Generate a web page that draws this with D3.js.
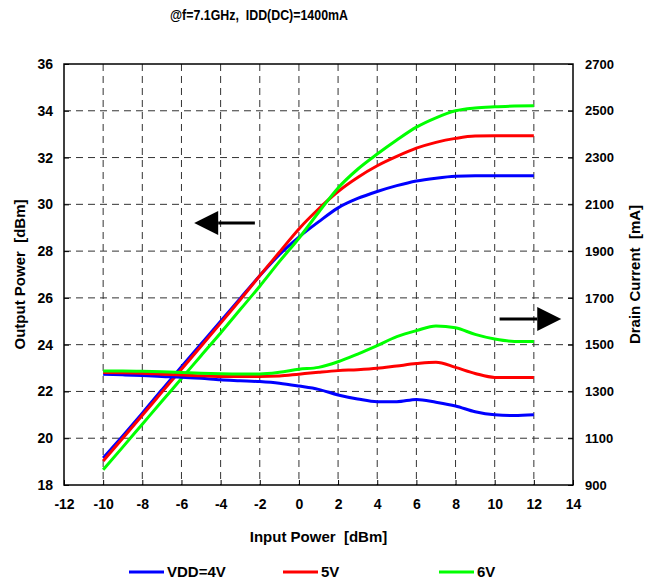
<!DOCTYPE html>
<html>
<head>
<meta charset="utf-8">
<script src="https://cdn.jsdelivr.net/npm/d3@7"></script>
<style>
  body { margin: 0; background: #fff; }
  text { font-family: "Liberation Sans", Arial, sans-serif; font-weight: bold; }
</style>
</head>
<body>
<div id="chart"></div>
<script>
// input power sweep (dBm)
const pin = [-10,-9,-8,-7,-6,-5,-4,-3,-2,-1,0,1,2,3,4,5,6,7,8,9,10,11,12];

// output power (dBm), left axis
const poutVdd4 = [19.15,20.1,21.07,22.07,23.06,24.03,25.0,25.98,26.95,27.85,28.6,29.25,29.85,30.25,30.55,30.8,31.0,31.12,31.2,31.22,31.22,31.22,31.22];
const poutVdd5 = [19.03,20.0,20.98,21.97,22.95,23.93,24.92,25.92,26.95,27.95,28.95,29.8,30.55,31.15,31.65,32.05,32.4,32.65,32.82,32.92,32.93,32.93,32.93];
const poutVdd6 = [18.65,19.62,20.6,21.58,22.55,23.53,24.5,25.5,26.5,27.55,28.55,29.65,30.7,31.5,32.15,32.75,33.3,33.7,34.0,34.12,34.17,34.2,34.22];

// drain current (mA), right axis
const idVdd4 = [1374,1371,1368,1364,1361,1356,1350,1346,1342,1335,1323,1309,1285,1268,1256,1256,1266,1254,1238,1213,1200,1197,1200];
const idVdd5 = [1381,1380,1378,1374,1370,1367,1364,1364,1364,1366,1374,1382,1389,1393,1399,1409,1419,1425,1403,1377,1360,1360,1360];
const idVdd6 = [1387,1387,1386,1384,1381,1378,1376,1375,1375,1382,1395,1403,1427,1460,1496,1534,1560,1580,1572,1544,1524,1514,1514];

const seriesNames = ["VDD=4V", "5V", "6V"];
const seriesColors = ["#0000ff", "#ff0000", "#00ff00"];

const xTicks = [-12,-10,-8,-6,-4,-2,0,2,4,6,8,10,12,14];
const yLeftTicks = [18,20,22,24,26,28,30,32,34,36];
const yRightTicks = [900,1100,1300,1500,1700,1900,2100,2300,2500,2700];

const W = 657, H = 583;
const margin = {top: 64, right: 84, bottom: 98, left: 64};
const width = W - margin.left - margin.right,
      height = H - margin.top - margin.bottom;

const svg = d3.select("#chart").append("svg")
  .attr("width", W).attr("height", H);

const x = d3.scaleLinear().domain([-12, 14]).range([margin.left, margin.left + width]);
const yL = d3.scaleLinear().domain([18, 36]).range([margin.top + height, margin.top]);
const yR = d3.scaleLinear().domain([900, 2700]).range([margin.top + height, margin.top]);

const plain = d => String(d);

// grid
const grid = svg.append("g").attr("stroke", "#333").attr("stroke-width", 1)
  .attr("stroke-dasharray", "7,5");
grid.selectAll("line.v").data(xTicks.slice(1, -1)).enter().append("line")
  .attr("x1", d => x(d)).attr("x2", d => x(d))
  .attr("y1", margin.top).attr("y2", margin.top + height);
grid.selectAll("line.h").data(yLeftTicks.slice(1, -1)).enter().append("line")
  .attr("x1", margin.left).attr("x2", margin.left + width)
  .attr("y1", d => yL(d)).attr("y2", d => yL(d));

// axes
const xAxis = svg.append("g")
  .attr("transform", `translate(0,${margin.top + height})`)
  .call(d3.axisBottom(x).tickValues(xTicks).tickFormat(plain).tickSizeInner(-5).tickSizeOuter(0).tickPadding(14));
const lAxis = svg.append("g")
  .attr("transform", `translate(${margin.left},0)`)
  .call(d3.axisLeft(yL).tickValues(yLeftTicks).tickFormat(plain).tickSizeInner(-5).tickSizeOuter(0).tickPadding(11));
const rAxis = svg.append("g")
  .attr("transform", `translate(${margin.left + width},0)`)
  .call(d3.axisRight(yR).tickValues(yRightTicks).tickFormat(plain).tickSizeInner(-5).tickSizeOuter(0).tickPadding(12));

[xAxis, lAxis, rAxis].forEach(a => {
  a.select(".domain").remove();
  a.selectAll("text").attr("font-size", "14px").attr("fill", "#000")
    .style("font-family", "'Liberation Sans', Arial, sans-serif").style("font-weight", "bold");
  a.selectAll("line").attr("stroke", "#000");
});
rAxis.selectAll("text").attr("font-size", "13px");

// frame
svg.append("rect")
  .attr("x", margin.left).attr("y", margin.top)
  .attr("width", width).attr("height", height)
  .attr("fill", "none").attr("stroke", "#000").attr("stroke-width", 1.5);

// curves
const lineL = d3.line().x((d, i) => x(pin[i])).y(d => yL(d)).curve(d3.curveMonotoneX);
const lineR = d3.line().x((d, i) => x(pin[i])).y(d => yR(d)).curve(d3.curveMonotoneX);

[poutVdd4, poutVdd5, poutVdd6].forEach((s, k) => {
  svg.append("path").datum(s).attr("d", lineL)
    .attr("fill", "none").attr("stroke", seriesColors[k]).attr("stroke-width", 3)
    .attr("stroke-linejoin", "round");
});
[idVdd4, idVdd5, idVdd6].forEach((s, k) => {
  svg.append("path").datum(s).attr("d", lineR)
    .attr("fill", "none").attr("stroke", seriesColors[k]).attr("stroke-width", 3)
    .attr("stroke-linejoin", "round");
});

// arrows pointing to the axis each group belongs to
function arrow(x0, x1, yv, dir) {
  const tip = x(x1), tail = x(x0), yy = yL(yv);
  const base = tip - dir * 24;
  svg.append("line").attr("x1", tail).attr("x2", base).attr("y1", yy).attr("y2", yy)
    .attr("stroke", "#000").attr("stroke-width", 3);
  svg.append("path")
    .attr("d", `M${tip},${yy} L${base},${yy - 12} L${base},${yy + 12} Z`)
    .attr("fill", "#000");
}
arrow(-2.25, -5.35, 29.2, -1);
arrow(10.25, 13.4, 25.1, 1);

// titles
svg.append("text")
  .attr("x", 170).attr("y", 20)
  .attr("font-size", "14px")
  .attr("textLength", 178).attr("lengthAdjust", "spacingAndGlyphs")
  .style("white-space", "pre")
  .text("@f=7.1GHz,  IDD(DC)=1400mA");

svg.append("text")
  .attr("x", x(1)).attr("y", 542)
  .attr("text-anchor", "middle").attr("font-size", "15px")
  .style("white-space", "pre")
  .text("Input Power  [dBm]");

svg.append("text")
  .attr("transform", `translate(25,${margin.top + height / 2}) rotate(-90)`)
  .attr("text-anchor", "middle").attr("font-size", "15px")
  .style("white-space", "pre")
  .text("Output Power  [dBm]");

svg.append("text")
  .attr("transform", `translate(640,${margin.top + height / 2}) rotate(-90)`)
  .attr("text-anchor", "middle").attr("font-size", "15px")
  .style("white-space", "pre")
  .text("Drain Current  [mA]");

// legend
const legendX = [129, 283, 439];
seriesNames.forEach((name, k) => {
  svg.append("line")
    .attr("x1", legendX[k]).attr("x2", legendX[k] + 35)
    .attr("y1", 572).attr("y2", 572)
    .attr("stroke", seriesColors[k]).attr("stroke-width", 3);
  svg.append("text")
    .attr("x", legendX[k] + 38).attr("y", 577)
    .attr("font-size", "15px")
    .text(name);
});
</script>
</body>
</html>
